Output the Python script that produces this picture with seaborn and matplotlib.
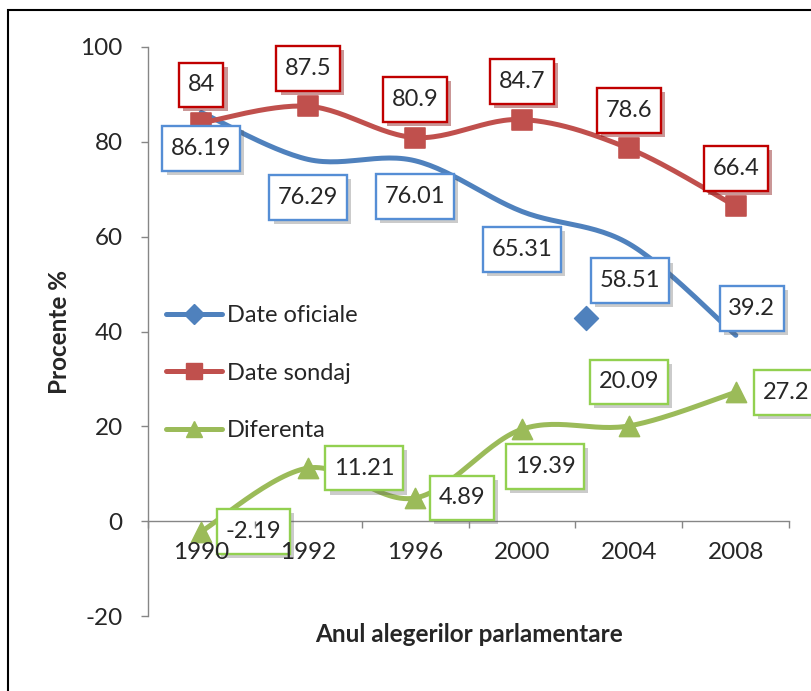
import numpy as np
import matplotlib
matplotlib.use("Agg")
import matplotlib.pyplot as plt
import matplotlib.patheffects as pe
from matplotlib.lines import Line2D
from matplotlib.patches import Rectangle
from matplotlib.path import Path
import seaborn as sns

# date
ani = ["1990", "1992", "1996", "2000", "2004", "2008"]
date_oficiale = [86.19, 76.29, 76.01, 65.31, 58.51, 39.2]
date_sondaj = [84, 87.5, 80.9, 84.7, 78.6, 66.4]
diferenta = [-2.19, 11.21, 4.89, 19.39, 20.09, 27.2]
# marker ramas singur pe grafic (langa 2004)
marker_izolat_x = [3.6]
marker_izolat_y = [42.8]

sns.set_style("white")
plt.rcParams["font.family"] = ["Lato", "DejaVu Sans"]
plt.rcParams["axes.unicode_minus"] = False


def netezire(xs, ys, n=30):
    # linie netezita ca in Excel (Bezier cu tangente Catmull-Rom)
    p = np.column_stack([xs, ys]).astype(float)
    p = np.vstack([p[0], p, p[-1]])
    out = []
    for i in range(1, len(p) - 2):
        p0, p1, p2, p3 = p[i - 1], p[i], p[i + 1], p[i + 2]
        c1 = p1 + (p2 - p0) / 6
        c2 = p2 - (p3 - p1) / 6
        t = np.linspace(0, 1, n)[:, None]
        seg = (1 - t) ** 3 * p1 + 3 * (1 - t) ** 2 * t * c1 + 3 * (1 - t) * t ** 2 * c2 + t ** 3 * p2
        out.append(seg if i == 1 else seg[1:])
    out = np.vstack(out)
    return out[:, 0], out[:, 1]


def cutie(x0, y0, width, height, mutation_size):
    # chenar dreptunghiular cu padding diferit pe orizontala si verticala
    px, py = 0.36 * mutation_size, 0.5 * mutation_size
    x1, y1 = x0 + width + px, y0 + height + py
    x0, y0 = x0 - px, y0 - py
    return Path([(x0, y0), (x1, y0), (x1, y1), (x0, y1), (x0, y0)], closed=True)


# stil serii: culoare, marker, chenar eticheta, umbra, deplasare eticheta (px)
serii = [
    ("Date oficiale", date_oficiale, "#4F81BD", "D", "#558ED5", "#555555", 0.3,
     [(0, 36), (0, 38), (0, 36), (0, 38), (1, 37), (16, -27)]),
    ("Date sondaj", date_sondaj, "#C0504D", "s", "#C00000", "#8B1A1A", 0.45,
     [(0, -38)] * 6),
    ("Diferenta", diferenta, "#9BBB59", "^", "#92D050", "#555555", 0.3,
     [(52, 0), (56, 0), (47, 0), (23, 37), (0, -44), (50, 0)]),
]

fig, ax = plt.subplots(figsize=(8.12, 6.91), dpi=100)
fig.subplots_adjust(left=0.182, right=0.972, bottom=0.1085, top=0.932)
x = np.arange(len(ani))

handles = []
for nume, val, c, m, chenar, umbra, alfa, depl in serii:
    sx, sy = netezire(x, val)
    sns.lineplot(x=sx, y=sy, sort=False, color=c, lw=3.6, ax=ax, legend=False, zorder=1.5)
    if m != "D":
        sns.scatterplot(x=x, y=val, marker=m, s=210, color=c, edgecolor=c, ax=ax, zorder=1.8, legend=False)
    handles.append(Line2D([0], [0], color=c, lw=3.6, marker=m, ms=12 if m != "D" else 10))
    for i, v in enumerate(val):
        dx, dy = depl[i]
        a = ax.annotate(f"{v:g}", (i, v), xytext=(dx * 0.72, -dy * 0.72), textcoords="offset points",
                        ha="center", va="center", fontsize=17, zorder=2.2,
                        bbox=dict(boxstyle=cutie, fc="white", ec=chenar, lw=1.7))
        a.get_bbox_patch().set_path_effects(
            [pe.SimplePatchShadow(offset=(3, -3), shadow_rgbFace=umbra, alpha=alfa), pe.Normal()])

sns.scatterplot(x=marker_izolat_x, y=marker_izolat_y, marker="D", s=150, color="#4F81BD",
                edgecolor="#4F81BD", ax=ax, zorder=1.8, legend=False)

ax.legend(handles, [s[0] for s in serii], loc="center left", bbox_to_anchor=(0.028, 0.427),
          frameon=False, fontsize=17, handlelength=2.4, handletextpad=0.2, labelspacing=1.55,
          borderpad=0, borderaxespad=0)

# axe
ax.set_xlim(-0.5, 5.5)
ax.set_ylim(-20, 100)
ax.set_yticks(range(-20, 101, 20))
ax.set_xticks(np.arange(-0.5, 6, 1))
ax.set_xticklabels([])
ax.set_xticks(x, minor=True)
ax.set_xticklabels(ani, minor=True)
ax.tick_params(axis="x", which="minor", bottom=True, length=0, pad=15, labelsize=17.5)
ax.tick_params(axis="x", which="major", bottom=True, length=5, width=1, color="#868686", direction="out")
ax.tick_params(axis="y", left=True, length=5, width=1, color="#868686", pad=13, labelsize=17.5, direction="out")
ax.spines["bottom"].set_position(("data", 0))
ax.spines[["top", "right"]].set_visible(False)
for s in ["left", "bottom"]:
    ax.spines[s].set_color("#868686")
    ax.spines[s].set_linewidth(1)
    ax.spines[s].set_zorder(1.0)
# etichetele axelor deasupra casetelor, ca in Excel
ax.xaxis.set_zorder(2.5)
ax.yaxis.set_zorder(2.5)

ax.set_xlabel("Anul alegerilor parlamentare", fontsize=17.5, fontweight="bold")
ax.xaxis.set_label_coords(0.5, -0.012)
ax.set_ylabel("Procente %", fontsize=17.5, fontweight="bold")
ax.yaxis.set_label_coords(-0.12, 0.5)

# chenarul graficului
fig.add_artist(Rectangle((8 / 812, -0.1), 1.5, 1.086, transform=fig.transFigure,
                         fill=False, ec="black", lw=1.5))

plt.savefig("out.png", dpi=100)
